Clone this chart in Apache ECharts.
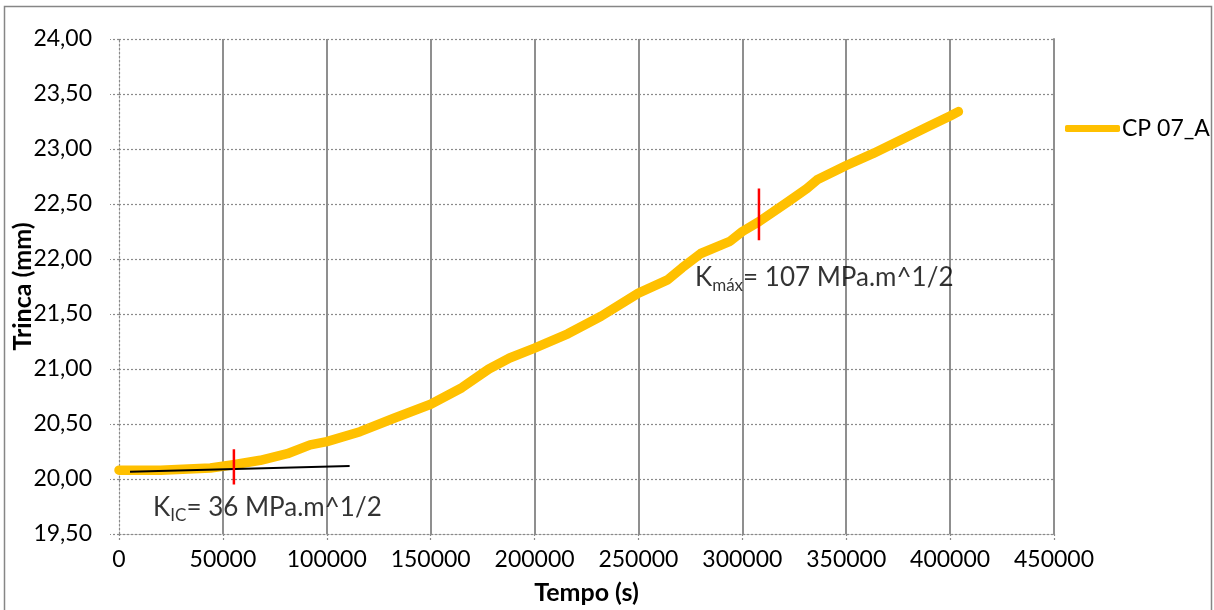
<!DOCTYPE html>
<html>
<head>
<meta charset="utf-8">
<script src="https://cdn.jsdelivr.net/npm/echarts@6/dist/echarts.min.js"></script>
<style>html,body{margin:0;padding:0;background:#fff;}#c{width:1214px;height:610px;}</style>
</head>
<body>
<div id="c"></div>
<script>
// ---- data ----
const timeS = [0, 20000, 44000, 55000, 68000, 81000, 92000, 100000, 116000, 132000, 150000, 165000, 178000, 188000, 200000, 216000, 232000, 250000, 264000, 271000, 280000, 294000, 300000, 308000, 322000, 331000, 336000, 350000, 363000, 376000, 389000, 400000, 404000];
const trincaMm = [20.08, 20.08, 20.10, 20.13, 20.17, 20.23, 20.31, 20.34, 20.43, 20.55, 20.68, 20.83, 21.00, 21.10, 21.19, 21.32, 21.48, 21.69, 21.81, 21.92, 22.05, 22.16, 22.25, 22.34, 22.52, 22.64, 22.72, 22.85, 22.96, 23.08, 23.20, 23.30, 23.34];
const seriesName = 'CP 07_A';
const tangentX = [5300, 111000];
const tangentY = [20.065, 20.118];
const kicMarkX = [55300, 55300];
const kicMarkY = [20.27, 19.95];
const kmaxMarkX = [308000, 308000];
const kmaxMarkY = [22.64, 22.17];
const kicLabelPos = [16400, 19.74];
const kmaxLabelPos = [277200, 21.83];
const xTicks = {min: 0, max: 450000, interval: 50000};
const yTicks = {min: 19.5, max: 24, interval: 0.5};

const FONT = 'Lato';
const zip = (a, b) => a.map((v, i) => [v, b[i]]);
const chart = echarts.init(document.getElementById('c'), null, {renderer: 'canvas'});
const richStyles = {
  big: {fontSize: 26, fontFamily: FONT, color: '#000', lineHeight: 32},
  sub: {fontSize: 17, fontFamily: FONT, color: '#000', lineHeight: 32, padding: [15, 0, 0, 0]}
};
chart.setOption({
  animation: false,
  backgroundColor: '#fff',
  textStyle: {fontFamily: FONT},
  graphic: [{type: 'rect', shape: {x: 4.5, y: 6.5, width: 1207, height: 612}, style: {fill: 'none', stroke: '#868686', lineWidth: 1.5}, silent: true}],
  grid: {left: 119, right: 160, top: 39, bottom: 76, containLabel: false, outerBoundsMode: 'none'},
  legend: {
    data: [seriesName], left: 1060, top: 112, icon: 'roundRect', itemWidth: 55, itemHeight: 7, itemGap: 5,
    textStyle: {fontSize: 23, fontFamily: FONT, color: '#000', padding: [0, 0, 0, -3]}
  },
  xAxis: {
    type: 'value', min: xTicks.min, max: xTicks.max, interval: xTicks.interval,
    name: 'Tempo (s)', nameLocation: 'middle', nameGap: 46, nameMoveOverlap: false,
    nameTextStyle: {fontSize: 25, fontWeight: 'bold', color: '#000', fontFamily: FONT},
    axisLine: {show: true, lineStyle: {color: '#8a8a8a', type: [2, 2], width: 1.2}},
    axisTick: {show: true, length: 8, lineStyle: {color: '#8a8a8a', type: [2, 2], width: 1.2}},
    axisLabel: {fontSize: 23, color: '#000', margin: 14, fontFamily: FONT, formatter: v => String(v)},
    splitLine: {show: true, showMinLine: false, showMaxLine: true, lineStyle: {color: '#8f8f8f', width: 2, type: 'solid'}}
  },
  yAxis: [{
    type: 'value', min: yTicks.min, max: yTicks.max, interval: yTicks.interval,
    name: 'Trinca (mm)', nameLocation: 'middle', nameGap: 84, nameRotate: 90, nameMoveOverlap: false,
    nameTextStyle: {fontSize: 25, fontWeight: 'bold', color: '#000', fontFamily: FONT},
    axisLine: {show: true, lineStyle: {color: '#8a8a8a', type: [2, 2], width: 1.2}},
    axisTick: {show: true, length: 9, lineStyle: {color: '#8a8a8a', type: [2, 2], width: 1.2}},
    axisLabel: {fontSize: 23, color: '#000', margin: 27, fontFamily: FONT,
      formatter: v => v.toFixed(2).replace('.', ',')},
    splitLine: {show: true, lineStyle: {color: '#8a8a8a', type: [2, 2], width: 1.2}}
  }, {
    type: 'value', position: 'right', min: yTicks.min, max: yTicks.max, interval: yTicks.interval,
    axisLine: {show: true, lineStyle: {color: '#8f8f8f', width: 2}},
    axisTick: {show: false}, axisLabel: {show: false}, splitLine: {show: false}
  }],
  series: [
    {name: seriesName, type: 'line', data: zip(timeS, trincaMm), showSymbol: false, symbol: 'none',
     color: '#FFC000', lineStyle: {color: '#FFC000', width: 9.5, cap: 'round', join: 'round'}, z: 3},
    {name: 'tangent', type: 'line', data: zip(tangentX, tangentY), showSymbol: false, symbol: 'none', silent: true,
     lineStyle: {color: '#000', width: 2}, z: 4},
    {name: 'kic', type: 'line', data: zip(kicMarkX, kicMarkY), showSymbol: false, symbol: 'none', silent: true,
     lineStyle: {color: '#FF0000', width: 2.5}, z: 5},
    {name: 'kmax', type: 'line', data: zip(kmaxMarkX, kmaxMarkY), showSymbol: false, symbol: 'none', silent: true,
     lineStyle: {color: '#FF0000', width: 2.5}, z: 5},
    {name: 'labels', type: 'scatter', symbolSize: 0, silent: true, z: 6,
     data: [
       {value: kicLabelPos, label: {formatter: '{big|K}{sub|IC}{big|= 36 MPa.m^1/2}'}},
       {value: kmaxLabelPos, label: {formatter: '{big|K}{sub|máx}{big|= 107 MPa.m^1/2}'}}
     ],
     label: {show: true, position: 'right', distance: 0, color: '#000', rich: richStyles}}
  ]
});
</script>
</body>
</html>
